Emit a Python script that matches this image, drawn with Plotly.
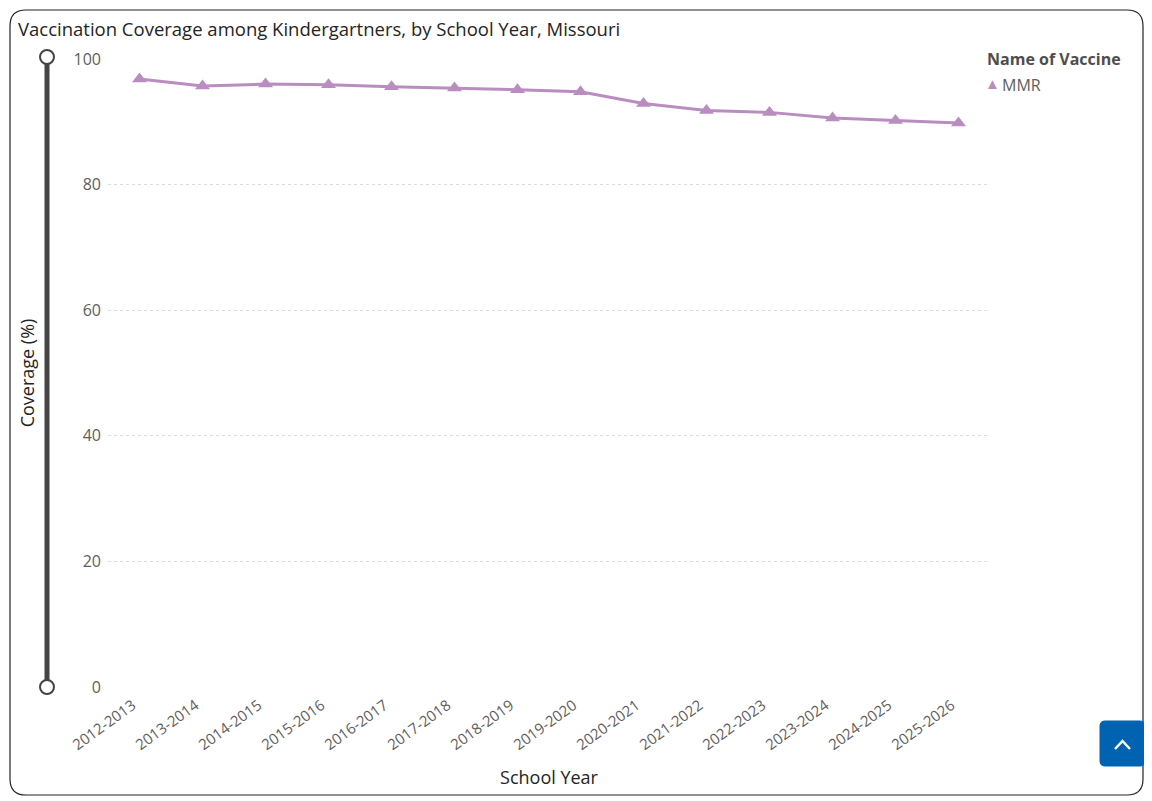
import plotly.graph_objects as go

# MMR coverage among kindergartners, Missouri
school_years = [
    "2012-2013", "2013-2014", "2014-2015", "2015-2016", "2016-2017",
    "2017-2018", "2018-2019", "2019-2020", "2020-2021", "2021-2022",
    "2022-2023", "2023-2024", "2024-2025", "2025-2026",
]
mmr_coverage = [96.8, 95.7, 96.0, 95.9, 95.6, 95.4, 95.1, 94.8,
                92.9, 91.8, 91.5, 90.6, 90.2, 89.8]
y_ticks = [0, 20, 40, 60, 80, 100]

# the page body adds an 8px margin, so the figure is drawn 8px smaller
OFF = 8
W, H = 1152 - OFF, 801 - OFF
L, R, T, B = 108, 990, 59, 687   # plot area in screen pixels

FONT = "Open Sans, Noto Sans, sans-serif"
GREY = "#605E5C"
DARK = "#252423"
PURPLE = "#B98DC0"


def px(x):
    return (x - L) / (R - L)


def py(y):
    return (B - y) / (B - T)


def rounded_rect(x0, y0, x1, y1, r):
    # path in paper coordinates, corners given in screen pixels
    return (f"M {px(x0 + r)},{py(y0)} L {px(x1 - r)},{py(y0)} "
            f"Q {px(x1)},{py(y0)} {px(x1)},{py(y0 + r)} "
            f"L {px(x1)},{py(y1 - r)} Q {px(x1)},{py(y1)} {px(x1 - r)},{py(y1)} "
            f"L {px(x0 + r)},{py(y1)} Q {px(x0)},{py(y1)} {px(x0)},{py(y1 - r)} "
            f"L {px(x0)},{py(y0 + r)} Q {px(x0)},{py(y0)} {px(x0 + r)},{py(y0)} Z")


fig = go.Figure()
fig.add_trace(go.Scatter(
    x=school_years, y=mmr_coverage, name="MMR", mode="lines+markers",
    line=dict(color=PURPLE, width=3),
    marker=dict(symbol="triangle-up", size=13, color=PURPLE),
    cliponaxis=False, showlegend=False,
))

shapes = [
    # card border
    dict(type="path", xref="paper", yref="paper",
         path=rounded_rect(10, 10, 1143, 795, 16),
         line=dict(color=DARK, width=1.2)),
    # vertical range slider
    dict(type="line", xref="paper", yref="paper",
         x0=px(47), x1=px(47), y0=py(64), y1=py(680),
         line=dict(color="#444444", width=5)),
    dict(type="circle", xref="paper", yref="paper",
         x0=px(40), x1=px(54), y0=py(50), y1=py(64),
         fillcolor="white", line=dict(color="#444444", width=2)),
    dict(type="circle", xref="paper", yref="paper",
         x0=px(40), x1=px(54), y0=py(680), y1=py(694),
         fillcolor="white", line=dict(color="#444444", width=2)),
    # scroll-to-top button
    dict(type="path", xref="paper", yref="paper",
         path=rounded_rect(1100, 721, 1145, 766, 5),
         fillcolor="#0063B1", line=dict(color="#0063B1", width=1)),
    dict(type="path", xref="paper", yref="paper",
         path=f"M {px(1115)},{py(749)} L {px(1122.5)},{py(741)} L {px(1130)},{py(749)}",
         line=dict(color="white", width=2.5)),
]

# legend drawn as text: marker-only symbol close to the label
annotations = [
    dict(text="<b>Name of Vaccine</b>", xref="paper", yref="paper",
         x=px(985), y=py(59), xanchor="left", yanchor="middle", showarrow=False,
         font=dict(size=16, color="#4F4E4C")),
    dict(text="▲", xref="paper", yref="paper",
         x=px(992.5), y=py(83), xanchor="center", yanchor="middle", showarrow=False,
         font=dict(size=15, color=PURPLE)),
    dict(text="MMR", xref="paper", yref="paper",
         x=px(1000), y=py(85), xanchor="left", yanchor="middle", showarrow=False,
         font=dict(size=16, color=GREY)),
]

fig.update_layout(
    width=W, height=H,
    paper_bgcolor="white", plot_bgcolor="white",
    margin=dict(l=L - OFF, r=W - (R - OFF), t=T - OFF, b=H - (B - OFF), autoexpand=False),
    font=dict(family=FONT, color=GREY, size=14),
    title=dict(text="Vaccination Coverage among Kindergartners, by School Year, Missouri",
               x=(18 - OFF) / W, xanchor="left", xref="container",
               y=1 - (30 - OFF) / H, yanchor="middle", yref="container",
               font=dict(family=FONT, size=18.5, color=DARK)),
    xaxis=dict(
        type="category", range=[-0.5, len(school_years) - 0.5],
        tickangle=-36, showgrid=False, zeroline=False, showline=False,
        ticks="", tickfont=dict(size=15, color=GREY),
        ticklabelshift=-7, ticklabelstandoff=6,
        title=dict(text="School Year", font=dict(size=18, color=DARK), standoff=18),
    ),
    yaxis=dict(
        range=[0, 100], tickvals=y_ticks, showgrid=True,
        gridcolor="#DDDDDD", griddash="dot", gridwidth=1,
        zeroline=False, showline=False, ticks="", ticklabelstandoff=6,
        tickfont=dict(size=16, color=GREY),
        title=dict(text="Coverage (%)", font=dict(size=18, color=DARK), standoff=34),
    ),
    annotations=annotations,
    shapes=shapes,
)

fig.write_html("out.html")
